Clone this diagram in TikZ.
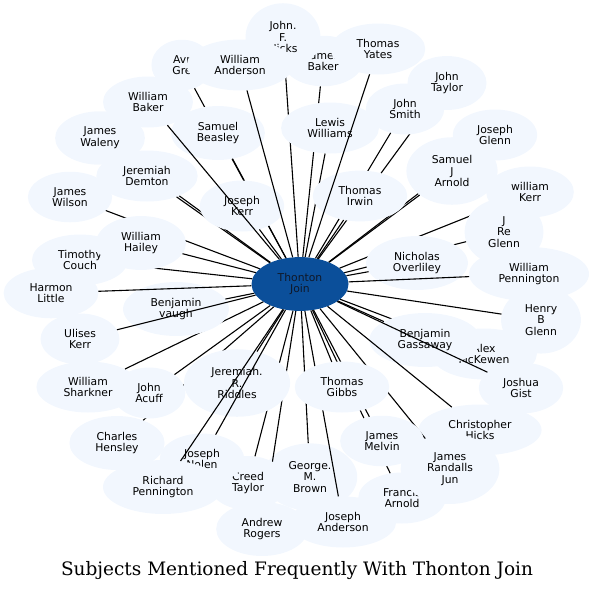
\documentclass[tikz,border=0pt]{standalone}
\usepackage{fontspec}
\setmainfont{DejaVu Serif}
\newfontfamily\namefont{DejaVu Sans}
\usetikzlibrary{shapes.geometric}

\definecolor{bubble}{HTML}{F2F7FE}
\definecolor{hubblue}{HTML}{0B4F9A}
\definecolor{hubtext}{HTML}{101828}

\begin{document}
\begin{tikzpicture}[
    x=1pt, y=-1pt,
    person/.style={ellipse, fill=bubble, inner xsep=12pt, inner ysep=8pt, align=center,
        font=\namefont\fontsize{10.8}{11.7}\selectfont}, % light bubbles round each name
    hub/.style={person, fill=hubblue, text=hubtext, minimum width=97pt, minimum height=50pt},
    link/.style={line width=1.1pt, black} % spoke from the hub
]
    \useasboundingbox (0,0) rectangle (594,590);

    % Hub
    \node[hub] (hub) at (300,284) {Thonton\\Join};

    % Names, each one followed by its spoke (later bubbles hide earlier spokes)
    \node[person] (jbaker) at (323,61) {James\\Baker};
    \draw[link] (hub) -- (jbaker);
    \node[person] (avr) at (182,65) {Avr\\Gre};
    \draw[link] (hub) -- (avr);
    \node[person] (hicks) at (283,37) {John.\\F.\\Hicks};
    \draw[link] (hub) -- (hicks);
    \node[person] (lewis) at (330,128) {Lewis\\Williams};
    \draw[link] (hub) -- (lewis);
    \node[person] (taylor) at (447,83) {John\\Taylor};
    \draw[link] (hub) -- (taylor);
    \node[person] (smith) at (405,109) {John\\Smith};
    \draw[link] (hub) -- (smith);
    \node[person] (jglenn) at (495,135) {Joseph\\Glenn};
    \draw[link] (hub) -- (jglenn);
    \node[person] (sarnold) at (452,171) {Samuel\\J\\Arnold};
    \draw[link] (hub) -- (sarnold);
    \node[person] (irwin) at (360,196) {Thomas\\Irwin};
    \draw[link] (hub) -- (irwin);
    \node[person] (yates) at (378,49) {Thomas\\Yates};
    \draw[link] (hub) -- (yates);
    \node[person] (wkerr) at (530,192) {william\\Kerr};
    \draw[link] (hub) -- (wkerr);
    \node[person] (reglenn) at (504,232) {J\\Re\\Glenn};
    \draw[link] (hub) -- (reglenn);
    \node[person] (overliley) at (417,263) {Nicholas\\Overliley};
    \draw[link] (hub) -- (overliley);
    \node[person] (wpenn) at (529,274) {William\\Pennington};
    \draw[link] (hub) -- (wpenn);
    \node[person] (hglenn) at (541,320) {Henry\\B\\Glenn};
    \draw[link] (hub) -- (hglenn);
    \node[person] (mckewen) at (484,354) {Alex\\McKewen};
    \draw[link] (hub) -- (mckewen);
    \node[person] (gassaway) at (425,340) {Benjamin\\Gassaway};
    \draw[link] (hub) -- (gassaway);
    \node[person] (gist) at (521,388) {Joshua\\Gist};
    \draw[link] (hub) -- (gist);
    \node[person] (chicks) at (480,430) {Christopher\\Hicks};
    \draw[link] (hub) -- (chicks);
    \node[person] (francis) at (402,498) {Francis\\Arnold};
    \draw[link] (hub) -- (francis);
    \node[person] (randalls) at (450,469) {James\\Randalls\\Jun};
    \draw[link] (hub) -- (randalls);
    \node[person] (melvin) at (382,441) {James\\Melvin};
    \draw[link] (hub) -- (melvin);
    \node[person] (brown) at (310,477) {George.\\M.\\Brown};
    \draw[link] (hub) -- (brown);
    \node[person] (janderson) at (343,522) {Joseph\\Anderson};
    \draw[link] (hub) -- (janderson);
    \node[person] (gibbs) at (342,387) {Thomas\\Gibbs};
    \draw[link] (hub) -- (gibbs);
    \node[person] (rogers) at (262,529) {Andrew\\Rogers};
    \draw[link] (hub) -- (rogers);
    \node[person] (creed) at (248,483) {Creed\\Taylor};
    \draw[link] (hub) -- (creed);
    \node[person] (hensley) at (117,443) {Charles\\Hensley};
    \draw[link] (hub) -- (hensley);
    \node[person] (sharkner) at (88,387) {William\\Sharkner};
    \draw[link] (hub) -- (sharkner);
    \node[person] (acuff) at (149,393) {John\\Acuff};
    \draw[link] (hub) -- (acuff);
    \node[person] (riddles) at (237,383) {Jeremiah.\\R.\\Riddles};
    \draw[link] (hub) -- (riddles);
    \node[person] (nolen) at (202,459) {Joseph\\Nolen};
    \draw[link] (hub) -- (nolen);
    \node[person] (rpenn) at (163,487) {Richard\\Pennington};
    \draw[link] (hub) -- (rpenn);
    \node[person] (vaugh) at (176,309) {Benjamin\\vaugh};
    \draw[link] (hub) -- (vaugh);
    \node[person] (ulises) at (80,339) {Ulises\\Kerr};
    \draw[link] (hub) -- (ulises);
    \node[person] (harmon) at (51,293) {Harmon\\Little};
    \draw[link] (hub) -- (harmon);
    \node[person] (couch) at (80,260) {Timothy\\Couch};
    \draw[link] (hub) -- (couch);
    \node[person] (wilson) at (70,197) {James\\Wilson};
    \draw[link] (hub) -- (wilson);
    \node[person] (hailey) at (141,243) {William\\Hailey};
    \draw[link] (hub) -- (hailey);
    \node[person] (waleny) at (100,138) {James\\Waleny};
    \draw[link] (hub) -- (waleny);
    \node[person] (demton) at (147,176) {Jeremiah\\Demton};
    \draw[link] (hub) -- (demton);
    \node[person] (beasley) at (218,133) {Samuel\\Beasley};
    \draw[link] (hub) -- (beasley);
    \node[person] (jkerr) at (242,206) {Joseph\\Kerr};
    \draw[link] (hub) -- (jkerr);
    \node[person] (wbaker) at (148,102) {William\\Baker};
    \draw[link] (hub) -- (wbaker);
    \node[person] (anderson) at (240,65) {William\\Anderson};
    \draw[link] (hub) -- (anderson);

    % Caption
    \node[anchor=base, font=\fontsize{18.5}{22}\selectfont] (title) at (297,575)
        {Subjects Mentioned Frequently With Thonton Join};
\end{tikzpicture}
\end{document}
